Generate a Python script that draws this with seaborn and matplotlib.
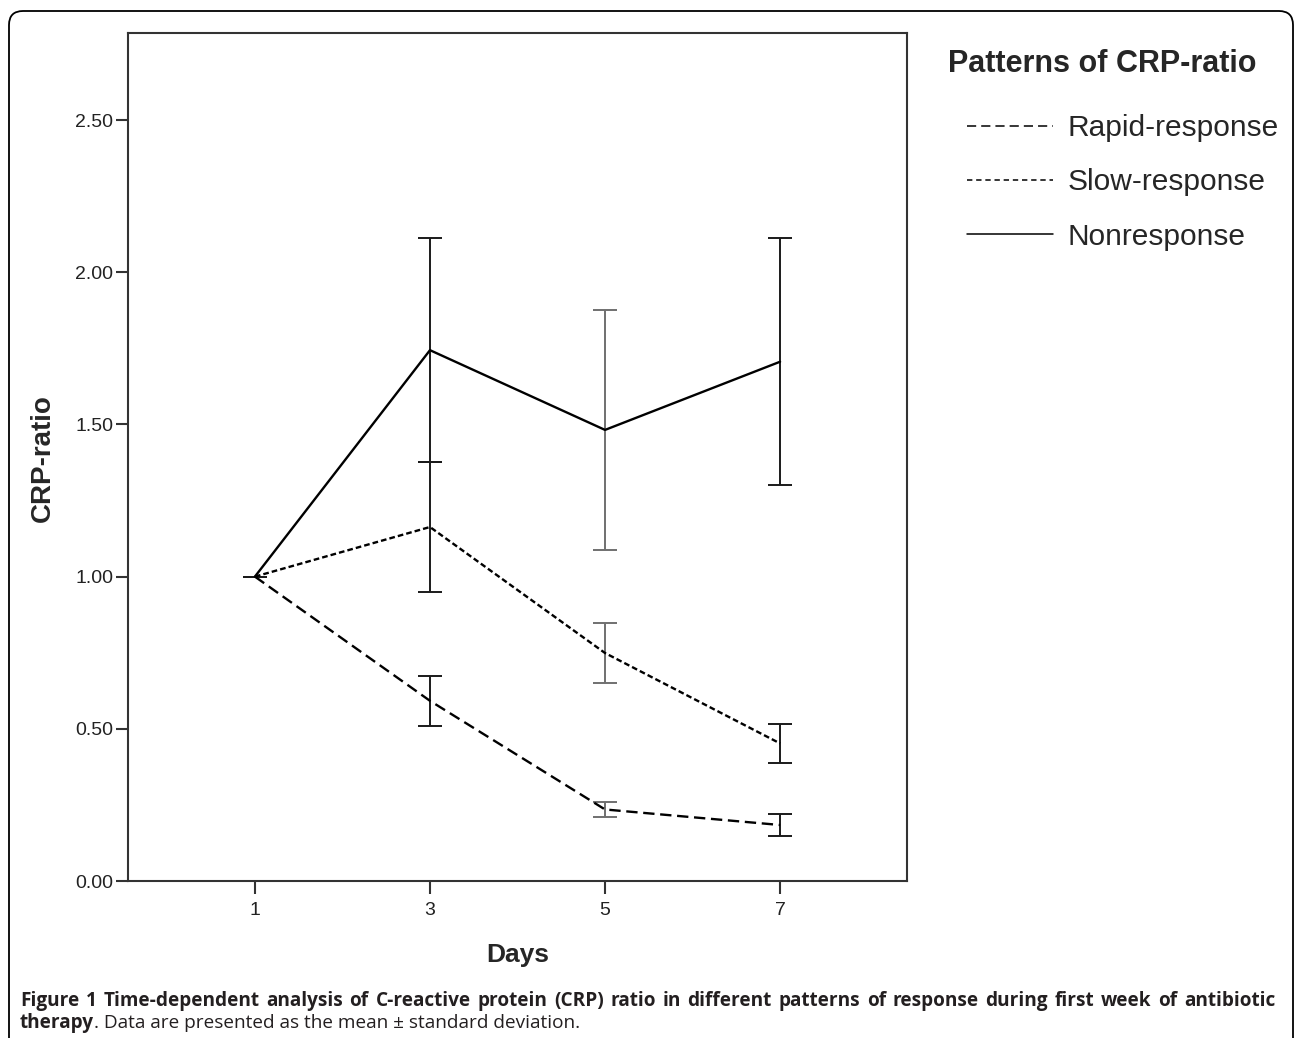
import matplotlib
matplotlib.use('Agg')
import matplotlib.pyplot as plt
from matplotlib.lines import Line2D
from matplotlib.patches import FancyBboxPatch
from matplotlib.ticker import FormatStrFormatter
from matplotlib.transforms import IdentityTransform
import pandas as pd
import seaborn as sns

# Data (mean and SD of CRP-ratio)
days = [1, 3, 5, 7]
patterns = ['Rapid-response', 'Slow-response', 'Nonresponse']
rapid_mean = [1.00, 0.592, 0.235, 0.184]
rapid_sd = [0.0, 0.082, 0.024, 0.035]
slow_mean = [1.00, 1.163, 0.749, 0.452]
slow_sd = [0.0, 0.213, 0.100, 0.064]
non_mean = [1.00, 1.744, 1.482, 1.706]
non_sd = [0.0, 0.368, 0.393, 0.406]
y_ticks = [0.0, 0.5, 1.0, 1.5, 2.0, 2.5]

caption_bold = ("Figure 1 Time-dependent analysis of C-reactive protein (CRP) ratio "
                "in different patterns of response during first week of antibiotic")
caption_bold2 = "therapy"
caption_rest = ". Data are presented as the mean \u00b1 standard deviation."

sns.set_style('white')
plt.rcParams['font.family'] = ['Liberation Sans', 'DejaVu Sans']

W, H = 1295, 1038
fig = plt.figure(figsize=(W / 100, H / 100), dpi=100)
ax = fig.add_axes([128 / W, 1 - 881 / H, (907 - 128) / W, (881 - 33) / H])

rows = []
for name, means, sds in zip(patterns, [rapid_mean, slow_mean, non_mean],
                            [rapid_sd, slow_sd, non_sd]):
    for d, m, s in zip(days, means, sds):
        rows.append({'Days': d, 'CRP-ratio': m, 'SD': s, 'Pattern': name})
df = pd.DataFrame(rows)

dash_map = {'Rapid-response': (4.8, 2.4), 'Slow-response': (2.4, 1.3), 'Nonresponse': ''}
sns.lineplot(data=df, x='Days', y='CRP-ratio', style='Pattern', style_order=patterns,
             dashes=dash_map, color='black', linewidth=1.7, estimator=None,
             errorbar=None, legend=False, ax=ax, zorder=3)

# error bars (day 5 bars look lighter in the original)
bar_colors = {1: '#1a1a1a', 3: '#1a1a1a', 5: '#707070', 7: '#1a1a1a'}
for _, r in df.iterrows():
    ax.errorbar(r['Days'], r['CRP-ratio'], yerr=r['SD'], fmt='none',
                ecolor=bar_colors[int(r['Days'])], elinewidth=1.4,
                capsize=8.5, capthick=1.4, zorder=2)

ax.set_xlim(-0.45, 8.45)
ax.set_ylim(0, 2.786)
ax.set_xticks(days)
ax.set_yticks(y_ticks)
ax.yaxis.set_major_formatter(FormatStrFormatter('%.2f'))
for sp in ax.spines.values():
    sp.set_visible(True)
    sp.set_color('#333333')
    sp.set_linewidth(1.5)
ax.tick_params(left=True, bottom=True, direction='out', length=9, width=1.5,
               color='#333333', labelsize=14, labelcolor='#222222')
ax.tick_params(axis='y', pad=1.5)
ax.tick_params(axis='x', pad=6)

ax.set_xlabel('Days', fontsize=19, fontweight='bold')
ax.xaxis.label.set_va('center')
ax.xaxis.set_label_coords(0.5006, -0.087)
ax.set_ylabel('CRP-ratio', fontsize=20, fontweight='bold')
ax.yaxis.label.set_va('center')
ax.yaxis.set_label_coords(-0.1098, 0.499)

# legend on the right
fig.text(948 / W, 1 - 64 / H, 'Patterns of CRP-ratio', fontsize=22,
         fontweight='bold', ha='left', va='center')
handles = [Line2D([], [], color='black', lw=1.1, dashes=(6, 3.3)),
           Line2D([], [], color='black', lw=1.1, dashes=(3.5, 2.5)),
           Line2D([], [], color='black', lw=1.1)]
fig.legend(handles, patterns, loc='upper left', bbox_to_anchor=(967 / W, 1 - 114 / H),
           frameon=False, fontsize=21.5, handlelength=2.88, handletextpad=0.5,
           labelspacing=0.88, borderpad=0, borderaxespad=0)

# rounded frame round the figure (open at the bottom)
fig.add_artist(FancyBboxPatch((9, -30), 1284, (H - 11) + 30,
                              boxstyle='round,pad=0,rounding_size=14',
                              transform=IdentityTransform(), fill=False,
                              lw=1.3, edgecolor='black'))

# caption, first line justified
cap_font = ['Open Sans', 'DejaVu Sans']
cap_color = '#231f20'
renderer = fig.canvas.get_renderer()
x0, x1 = 20, 1275
fs = 11.2
probe = fig.text(0, 0, caption_bold2 + caption_rest, fontsize=fs, family=cap_font)
w2 = probe.get_window_extent(renderer).width
probe.remove()
fs = fs * 556 / w2

words = caption_bold.split(' ')
word_texts = []
total = 0
for wd in words:
    t = fig.text(0, H - 1006, wd, fontsize=fs, family=cap_font, fontweight='bold',
                 color=cap_color, va='baseline', transform=IdentityTransform())
    total += t.get_window_extent(renderer).width
    word_texts.append(t)
gap = (x1 - x0 - total) / (len(words) - 1)
x = x0
for t in word_texts:
    t.set_x(x)
    x += t.get_window_extent(renderer).width + gap

tb = fig.text(x0, H - 1028, caption_bold2, fontsize=fs, family=cap_font,
              fontweight='bold', color=cap_color, va='baseline',
              transform=IdentityTransform())
wb = tb.get_window_extent(renderer).width
fig.text(x0 + wb, H - 1028, caption_rest, fontsize=fs, family=cap_font,
         color=cap_color, va='baseline', transform=IdentityTransform())

fig.savefig('out.png', dpi=100, facecolor='white')
